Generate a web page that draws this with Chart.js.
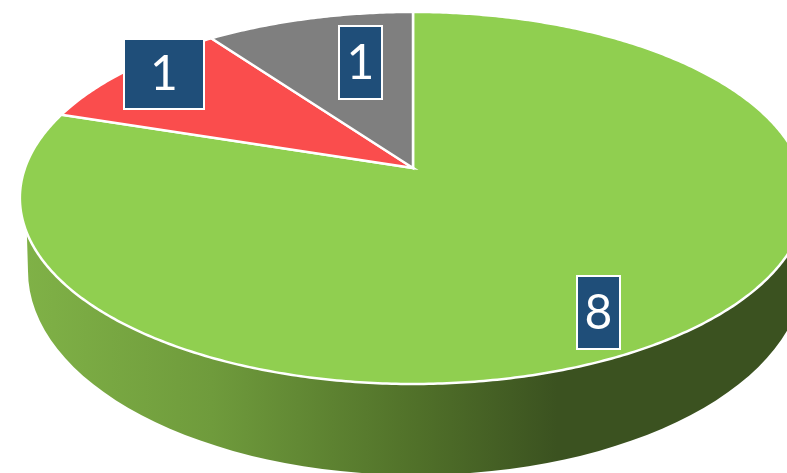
<!DOCTYPE html>
<html>
<head>
<meta charset="utf-8">
<style>
  html, body { margin: 0; padding: 0; background: #fff; overflow: hidden; }
  canvas { display: block; }
</style>
<script src="https://cdn.jsdelivr.net/npm/chart.js@4"></script>
</head>
<body>
<canvas id="pie3d" width="787" height="473"></canvas>
<script>
const categories = ["A", "B", "C"];
const values = [8, 1, 1];
const sliceColors = ["#90cf50", "#fa4d4d", "#7f7f7f"];

// label box for each slice: x, y, w, h
const labelBoxes = [
  [577, 276, 43, 73],
  [124, 39, 80, 70],
  [339, 26, 43, 73],
];

// tilted disc: the apex sits above the middle of the rim ellipse
const apexX = 413;
const apexY = 168;
const spanX = 388;
const spanY = 181.2;
const tilt = -0.161;

// bottom edge of the side wall
const wall = { x: 416, y: 271, rx: 388, ry: 204 };

function project(angle) {
  const d = 1 + tilt * Math.sin(angle);
  return [apexX + (spanX * Math.cos(angle)) / d, apexY + (spanY * Math.sin(angle)) / d];
}

// slices go through the tilted projection instead of a flat circle
Chart.ArcElement.prototype.draw = function (ctx) {
  const { startAngle, endAngle } = this.getProps(["startAngle", "endAngle"]);
  ctx.save();
  ctx.beginPath();
  ctx.moveTo(apexX, apexY);
  const steps = Math.ceil((endAngle - startAngle) / 0.01);
  for (let i = 0; i <= steps; i++) {
    const p = project(startAngle + ((endAngle - startAngle) * i) / steps);
    ctx.lineTo(p[0], p[1]);
  }
  ctx.closePath();
  ctx.fillStyle = this.options.backgroundColor;
  ctx.fill();
  ctx.strokeStyle = this.options.borderColor;
  ctx.lineWidth = this.options.borderWidth;
  ctx.lineJoin = "miter";
  ctx.stroke();
  ctx.restore();
};

const sideWall = {
  id: "sideWall",
  beforeDatasetsDraw(chart) {
    const ctx = chart.ctx;
    const grad = ctx.createLinearGradient(20, 0, 787, 0);
    grad.addColorStop(0, "#80b247");
    grad.addColorStop(0.25, "#6f9b3c");
    grad.addColorStop(0.52, "#507029");
    grad.addColorStop(0.7, "#3b5220");
    grad.addColorStop(1, "#3b5220");
    ctx.save();
    ctx.beginPath();
    // rim from the far right round to the far left
    for (let a = 0; a <= Math.PI + 0.001; a += 0.01) {
      const p = project(a);
      if (a === 0) ctx.moveTo(p[0], p[1]);
      else ctx.lineTo(p[0], p[1]);
    }
    ctx.ellipse(wall.x, wall.y, wall.rx, wall.ry, 0, Math.PI, 0, true);
    ctx.closePath();
    ctx.fillStyle = grad;
    ctx.fill();
    ctx.restore();
  },
};

const valueLabels = {
  id: "valueLabels",
  afterDatasetsDraw(chart) {
    const ctx = chart.ctx;
    ctx.save();
    values.forEach((v, i) => {
      const [x, y, w, h] = labelBoxes[i];
      ctx.fillStyle = "#1f4e79";
      ctx.fillRect(x, y, w, h);
      ctx.strokeStyle = "#ffffff";
      ctx.lineWidth = 2;
      ctx.strokeRect(x, y, w, h);
      ctx.fillStyle = "#ffffff";
      ctx.font = '48px Lato, "Open Sans", sans-serif';
      ctx.textAlign = "center";
      ctx.textBaseline = "middle";
      ctx.fillText(String(v), x + w / 2, y + h / 2 + 1);
    });
    ctx.restore();
  },
};

new Chart(document.getElementById("pie3d"), {
  type: "pie",
  data: {
    labels: categories,
    datasets: [
      {
        data: values,
        backgroundColor: sliceColors,
        borderColor: "#ffffff",
        borderWidth: 2.5,
      },
    ],
  },
  options: {
    responsive: false,
    animation: false,
    events: [],
    plugins: {
      legend: { display: false },
      tooltip: { enabled: false },
    },
  },
  plugins: [sideWall, valueLabels],
});
</script>
</body>
</html>
